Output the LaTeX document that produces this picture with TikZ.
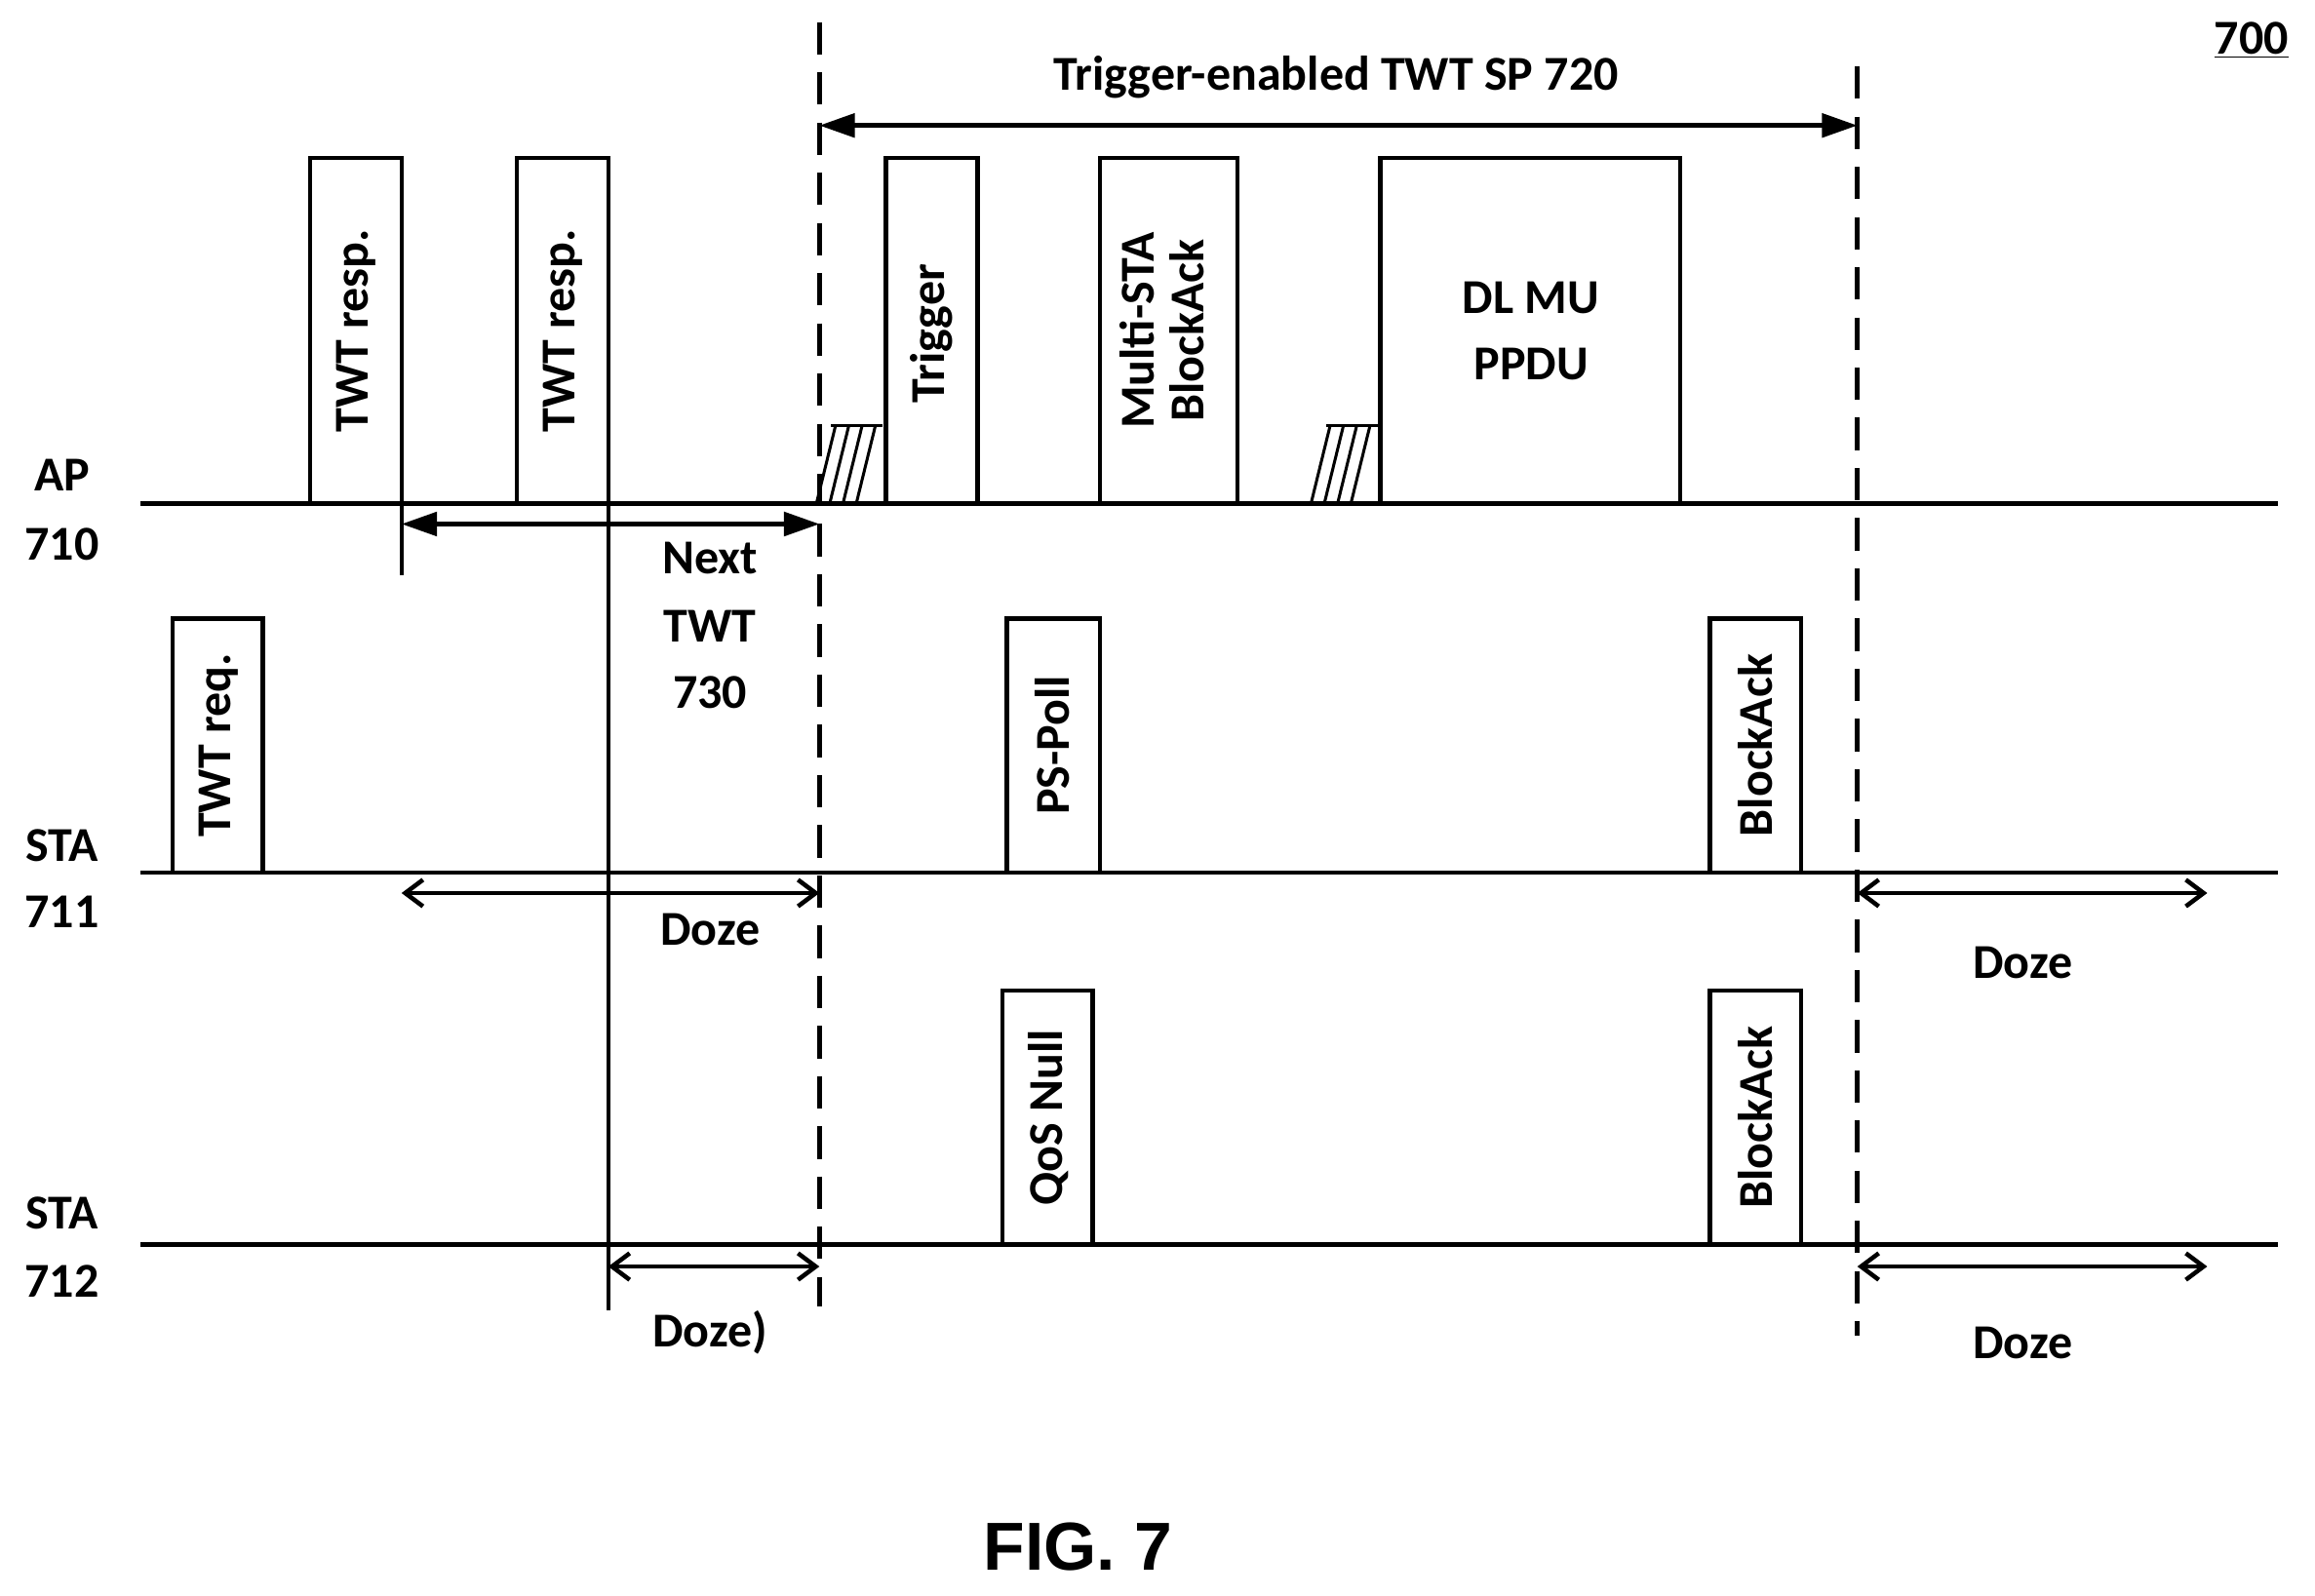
\documentclass[tikz,border=0pt]{standalone}
\usepackage{fontspec}
\setmainfont{Carlito}
\newfontfamily\arialf{Liberation Sans}
\usetikzlibrary{arrows.meta}
\begin{document}
\begin{tikzpicture}[x=1pt,y=-1pt,line width=3pt,
  lbl/.style={font=\fontsize{33}{38}\selectfont\bfseries,inner sep=0pt},
  frame/.style={draw,line width=3pt,inner sep=0pt},
  rt/.style={lbl,rotate=90},
  big/.style={{Triangle[length=24pt,width=16pt]}-{Triangle[length=24pt,width=16pt]}},
  open/.style={{Straight Barb[length=12pt,width=18pt]}-{Straight Barb[length=12pt,width=18pt]}},
  dsh/.style={dash pattern=on 22pt off 12pt}]
\useasboundingbox (0,0) rectangle (1568,1081);
% timelines
\draw (95,341) coordinate (ap0) -- (1543,341) coordinate (ap1);
\draw (95,591) coordinate (s10) -- (1543,591) coordinate (s11);
\draw (95,843) coordinate (s20) -- (1543,843) coordinate (s21);
% row labels
\node[lbl] (apa) at (42,322) {AP};
\node[lbl] (apb) at (42,369) {710};
\node[lbl] (sa) at (42,573) {STA};
\node[lbl] (sb) at (42,618) {711};
\node[lbl] (sc) at (42,822) {STA};
\node[lbl] (sd) at (42,868) {712};
% AP boxes
\draw (210,341) rectangle (272,107); \node[rt] (r1) at (241,224) {TWT resp.};
\draw (350,341) rectangle (412,107); \node[rt] (r2) at (381,224) {TWT resp.};
\draw (600,341) rectangle (662,107); \node[rt] (tr) at (631,226) {Trigger};
\draw (745,341) rectangle (838,107);
\node[rt] (ms) at (791,224) {\begin{tabular}{@{}c@{}}Multi-STA\\[-4pt]BlockAck\end{tabular}};
\draw (935,341) rectangle (1138,107);
\node[lbl] (dl1) at (1037,202) {DL MU};
\node[lbl] (dl2) at (1037,247) {PPDU};
% hatches
\draw[line width=2pt] (563,288) -- (598,288);
\foreach \i in {0,1,2,3} \draw[line width=2pt] (553+\i*9,341) -- (566+\i*9,288);
\draw[line width=2pt] (898,288) -- (935,288);
\foreach \i in {0,1,2,3} \draw[line width=2pt] (888+\i*9,341) -- (901+\i*9,288);
% STA711 boxes
\draw (117,591) rectangle (178,419); \node[rt] (tq) at (148,505) {TWT req.};
\draw (682,591) rectangle (745,419); \node[rt] (ps) at (713,505) {PS-Poll};
\draw (1158,591) rectangle (1220,419); \node[rt] (ba1) at (1189,505) {BlockAck};
% STA712 boxes
\draw (679,843) rectangle (740,671); \node[rt] (qn) at (710,757) {QoS Null};
\draw (1158,843) rectangle (1220,671); \node[rt] (ba2) at (1189,757) {BlockAck};
% verticals
\draw[dsh] (555,15) coordinate (d1t) -- (555,885) coordinate (d1b);
\draw[dsh] (1258,45) coordinate (d2t) -- (1258,905) coordinate (d2b);
\draw (412,341) -- (412,888);
\draw (272,341) -- (272,390);
% arrows
\coordinate (n0) at (272,355); \coordinate (n1) at (555,355);
\draw[big] (n0) -- (n1);
\node[lbl] (nx1) at (481,378) {Next};
\node[lbl] (nx2) at (481,424) {TWT};
\node[lbl] (nx3) at (481,469) {730};
\coordinate (t0) at (555,85); \coordinate (t1) at (1258,85);
\draw[big] (t0) -- (t1);
\node[lbl] (ttl) at (905,52) {Trigger-enabled TWT SP 720};
\coordinate (a0) at (272,605); \coordinate (a1) at (555,605);
\draw[open] (a0) -- (a1); \node[lbl] (dz1) at (481,630) {Doze};
\coordinate (b0) at (1258,605); \coordinate (b1) at (1495,605);
\draw[open] (b0) -- (b1); \node[lbl] (dz2) at (1370,652) {Doze};
\coordinate (c0) at (412,858); \coordinate (c1) at (555,858);
\draw[open] (c0) -- (c1); \node[lbl] (dz3) at (481,903) {Doze)};
\coordinate (e0) at (1258,858); \coordinate (e1) at (1495,858);
\draw[open] (e0) -- (e1); \node[lbl] (dz4) at (1370,910) {Doze};
\node[lbl] (num) at (1525,27) {\underline{700}};
\node[inner sep=0pt,font=\arialf\fontsize{46}{50}\selectfont\bfseries] (fig) at (730,1048) {FIG. 7};
\end{tikzpicture}
\end{document}
